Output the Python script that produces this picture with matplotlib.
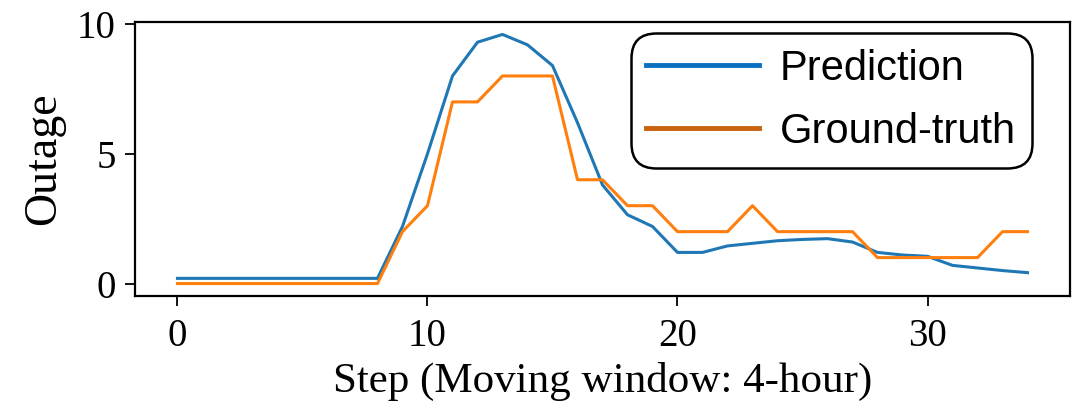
import matplotlib
matplotlib.use("Agg")
import matplotlib.pyplot as plt
from matplotlib.lines import Line2D

# Outage per step, moving window of 4 hours
steps = list(range(35))
prediction = [0.2, 0.2, 0.2, 0.2, 0.2, 0.2, 0.2, 0.2, 0.2, 2.2,
              5.0, 8.0, 9.3, 9.6, 9.2, 8.4, 6.2, 3.8, 2.65, 2.2,
              1.2, 1.2, 1.45, 1.55, 1.65, 1.7, 1.73, 1.6, 1.2, 1.1,
              1.05, 0.7, 0.6, 0.5, 0.42]
ground_truth = [0, 0, 0, 0, 0, 0, 0, 0, 0, 2,
                3, 7, 7, 8, 8, 8, 4, 4, 3, 3,
                2, 2, 2, 3, 2, 2, 2, 2, 1, 1,
                1, 1, 1, 2, 2]
series_labels = ["Prediction", "Ground-truth"]

serif = ["Liberation Serif", "DejaVu Serif"]

fig = plt.figure(figsize=(10.78, 4.11), dpi=100)
ax = fig.add_axes([0.1252, 0.2798, 0.8674, 0.6667])

ax.plot(steps, prediction, color="#1f77b4", lw=2.2)
ax.plot(steps, ground_truth, color="#ff7f0e", lw=2.2)

ax.set_xticks([0, 10, 20, 30])
ax.set_yticks([0, 5, 10])
ax.set_xlabel("Step (Moving window: 4-hour)", family=serif, fontsize=31, labelpad=5)
ax.set_ylabel("Outage", family=serif, fontsize=33, labelpad=8)
ax.tick_params(axis="both", direction="out", length=7, width=1.3, labelsize=28)
ax.tick_params(axis="y", pad=7)
ax.tick_params(axis="x", pad=9)
for lbl in ax.get_xticklabels() + ax.get_yticklabels():
    lbl.set_family(serif)
for sp in ax.spines.values():
    sp.set_linewidth(1.6)

# legend with its own handle colours
handles = [Line2D([], [], color="#0a70c0", lw=3.5),
           Line2D([], [], color="#c8620c", lw=3.5)]
leg = ax.legend(handles, series_labels, loc="upper right",
                bbox_to_anchor=(0.959, 0.960), borderaxespad=0,
                prop={"family": "Liberation Sans", "size": 30},
                handlelength=2.7, handletextpad=0.5, labelspacing=0.55,
                borderpad=0.38, fancybox=True, framealpha=1, edgecolor="black")
leg.get_frame().set_linewidth(1.8)
leg.get_frame().set_boxstyle("round", pad=0, rounding_size=0.6)

fig.savefig("out.png", dpi=100)
